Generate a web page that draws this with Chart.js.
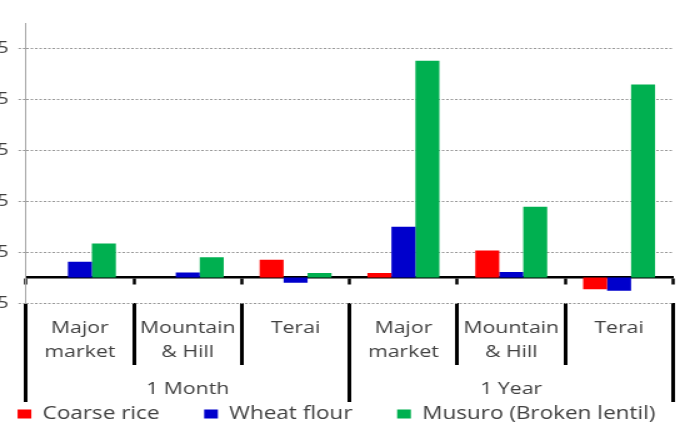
<!DOCTYPE html>
<html>
<head>
<meta charset="utf-8">
<script src="https://cdn.jsdelivr.net/npm/chart.js@4.4.1/dist/chart.umd.min.js"></script>
<style>
  html, body { margin: 0; padding: 0; background: #fff; overflow: hidden; }
  /* the source picture is stretched sideways, so the chart is drawn narrow and scaled */
  #wrap { position: absolute; left: 0; top: 0; width: 544px; height: 426px; transform: scaleX(1.25); transform-origin: 0 0; }
</style>
</head>
<body>
<div id="wrap"><canvas id="myChart"></canvas></div>
<script>
const categories = [['Major', 'market'], ['Mountain', '& Hill'], ['Terai'], ['Major', 'market'], ['Mountain', '& Hill'], ['Terai']];
const periods = ['1 Month', '1 Year'];
const yTicks = [-5, 5, 15, 25, 35, 45];

const coarseRice = [0, 0, 3.5, 0.9, 5.3, -2.3];
const wheatFlour = [3.1, 1.0, -1.0, 10.0, 1.1, -2.6];
const musuro = [6.7, 4.0, 0.9, 42.6, 13.9, 37.9];

const textColor = '#404040';
const fontFamily = "'Open Sans', sans-serif";

// legend padding also sets the vertical offset, so keep it small and space items with blanks
function legendLabels(chart) {
    const items = Chart.defaults.plugins.legend.labels.generateLabels(chart);
    items.forEach((item, i) => {
        if (i < items.length - 1) item.text += '       ';
    });
    return items;
}

const ctx = document.getElementById('myChart').getContext('2d');
new Chart(ctx, {
    type: 'bar',
    data: {
        labels: categories,
        datasets: [
            { label: 'Coarse rice', data: coarseRice, backgroundColor: '#ff0000', borderWidth: 0 },
            { label: 'Wheat flour', data: wheatFlour, backgroundColor: '#0000cc', borderWidth: 0 },
            { label: 'Musuro (Broken lentil)', data: musuro, backgroundColor: '#00b050', borderWidth: 0 }
        ]
    },
    options: {
        responsive: true,
        maintainAspectRatio: false,
        animation: false,
        categoryPercentage: 0.667,
        barPercentage: 1,
        layout: { padding: { top: 23, right: 5.6, bottom: -7, left: 0 } },
        plugins: {
            tooltip: { enabled: false },
            legend: {
                position: 'bottom',
                labels: {
                    boxWidth: 11,
                    boxHeight: 9,
                    padding: 3,
                    color: textColor,
                    font: { family: fontFamily, size: 18 },
                    generateLabels: legendLabels
                }
            }
        },
        scales: {
            x: {
                position: { y: 0 },
                z: 1,
                offset: true,
                ticks: { display: false },
                grid: { offset: true, drawOnChartArea: false, drawTicks: true, tickLength: 6, tickWidth: 2.5, tickColor: '#000' },
                border: { display: true, color: '#000', width: 2.5 }
            },
            xCat: {
                type: 'category',
                position: 'bottom',
                offset: true,
                weight: 0,
                afterFit: s => { s.height = 62; },
                grid: { offset: true, drawOnChartArea: false, drawTicks: true, tickLength: 62, tickWidth: 3, tickColor: '#000' },
                border: { display: false },
                ticks: {
                    padding: -48,
                    maxRotation: 0,
                    autoSkip: false,
                    color: textColor,
                    font: { family: fontFamily, size: 17, lineHeight: 1.365 }
                }
            },
            xGrp: {
                type: 'category',
                position: 'bottom',
                labels: periods,
                offset: true,
                weight: 1,
                afterFit: s => { s.height = 37; },
                grid: { offset: true, drawOnChartArea: false, drawTicks: true, tickLength: 37, tickWidth: 3, tickColor: '#000' },
                border: { display: false },
                ticks: {
                    padding: -24.6,
                    maxRotation: 0,
                    autoSkip: false,
                    color: textColor,
                    font: { family: fontFamily, size: 17, lineHeight: 1.365 }
                }
            },
            y: {
                min: -5,
                max: 50,
                afterBuildTicks: s => { s.ticks = yTicks.map(v => ({ value: v })); },
                afterFit: s => { s.width = 20.8; },
                grid: { color: '#999999', lineWidth: 1, tickLength: 6, tickColor: '#999999', tickBorderDash: [2, 1.5] },
                border: { display: true, color: '#a6a6a6', width: 1, dash: [2, 1.5] },
                ticks: {
                    padding: 8,
                    color: textColor,
                    font: { family: fontFamily, size: 16 }
                }
            }
        }
    }
});
</script>
</body>
</html>
